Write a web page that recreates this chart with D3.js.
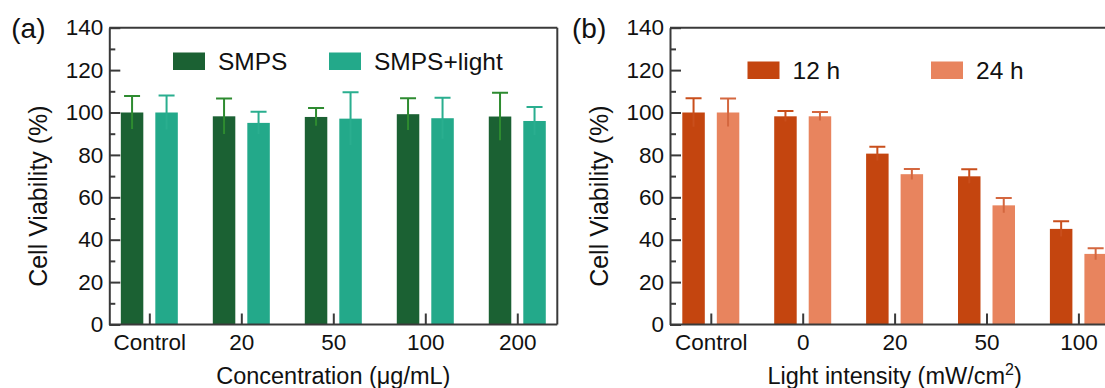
<html>
<head>
<script src="https://d3js.org/d3.v7.min.js"></script>
<style>
  body { margin: 0; background: #fff; }
  text { font-family: "Liberation Sans", Arial, sans-serif; fill: #111; }
  .axis path, .axis line { stroke: #3a3a3a; stroke-width: 2; }
  .axis text { font-size: 22.5px; fill: #111; }
</style>
</head>
<body>
<svg id="chart" width="1105" height="388"></svg>
<script>
// panel (a)
const catsA = ['Control', '20', '50', '100', '200'];
const smps = [100, 98.2, 97.9, 99.2, 98.1];
const smpsErr = [7.8, 8.4, 4.2, 7.5, 11.2];
const smpsLight = [100, 95.1, 97.1, 97.3, 96.0];
const smpsLightErr = [8.0, 5.2, 12.4, 9.7, 6.6];

// panel (b)
const catsB = ['Control', '0', '20', '50', '100'];
const h12 = [100, 98.2, 80.6, 69.9, 45.1];
const h12Err = [6.7, 2.5, 3.2, 3.3, 3.6];
const h24 = [100, 98.2, 70.9, 56.2, 33.3];
const h24Err = [6.6, 2.0, 2.5, 3.5, 2.7];

const yMajor = [0, 20, 40, 60, 80, 100, 120, 140];
const yMinor = [10, 30, 50, 70, 90, 110, 130];

const svg = d3.select('#chart');
const yTop = 27.7, yBottom = 324.5;
const y = d3.scaleLinear().domain([0, 140]).range([yBottom, yTop]);

function drawPanel(p) {
  const g = svg.append('g');
  const x = d3.scalePoint().domain(p.cats).range([p.x0, p.x1]).padding(p.pad);
  const inner = d3.scaleBand().domain([0, 1]).range([-28.5, 28.5]).paddingInner(0.348);

  p.series.forEach((s, si) => {
    // bars
    g.selectAll(null).data(p.cats).enter().append('rect')
      .attr('x', c => x(c) + inner(si))
      .attr('width', inner.bandwidth())
      .attr('y', (c, i) => y(s.values[i]))
      .attr('height', (c, i) => yBottom - y(s.values[i]))
      .attr('fill', s.color);
    // error bars
    const cx = c => x(c) + inner(si) + inner.bandwidth() / 2;
    g.selectAll(null).data(p.cats).enter().append('path')
      .attr('d', (c, i) => {
        const hi = y(s.values[i] + s.err[i]), lo = y(s.values[i] - s.err[i]);
        const xc = cx(c);
        return `M${xc},${lo}V${hi}M${xc - 8},${hi}H${xc + 8}`;
      })
      .attr('stroke', s.errColor)
      .attr('stroke-width', 2)
      .attr('fill', 'none');
  });

  // frame top and right
  g.append('line').attr('x1', p.x0).attr('x2', p.frameRight)
    .attr('y1', y(140)).attr('y2', y(140))
    .attr('stroke', '#3a3a3a').attr('stroke-width', 2);
  g.append('line').attr('x1', p.x1).attr('x2', p.x1)
    .attr('y1', y(140)).attr('y2', y(0))
    .attr('stroke', '#3a3a3a').attr('stroke-width', 2);

  // y axis with inward ticks
  g.append('g').attr('class', 'axis')
    .attr('transform', `translate(${p.x0},0)`)
    .call(d3.axisLeft(y).tickValues(yMajor).tickSizeInner(-11).tickSizeOuter(0).tickPadding(6));
  g.append('g').attr('class', 'axis')
    .attr('transform', `translate(${p.x0},0)`)
    .call(d3.axisLeft(y).tickValues(yMinor).tickSizeInner(-6).tickSizeOuter(0).tickFormat(''))
    .select('.domain').remove();

  // x axis with inward ticks
  g.append('g').attr('class', 'axis')
    .attr('transform', `translate(0,${yBottom})`)
    .call(d3.axisBottom(x).tickSizeInner(-11).tickSizeOuter(0).tickPadding(10))
    .select('.domain').attr('d', `M${p.x0},0H${p.frameRight}`);

  // axis titles
  g.append('text')
    .attr('transform', `translate(${p.x0 - 62},${(y(140) + y(0)) / 2 + 20}) rotate(-90)`)
    .attr('text-anchor', 'middle')
    .style('font-size', '25px')
    .text('Cell Viability (%)');
  const xt = g.append('text')
    .attr('x', x(p.cats[2]))
    .attr('y', 384)
    .attr('text-anchor', 'middle')
    .style('font-size', '23.5px');
  xt.append('tspan').text(p.xTitle);
  if (p.xSup) {
    xt.append('tspan').attr('dy', -9).style('font-size', '16px').text(p.xSup);
    xt.append('tspan').attr('dy', 9).text(')');
  }

  // panel label
  g.append('text').attr('x', p.x0 - 98).attr('y', 38)
    .style('font-size', '28px').text(p.label);

  // legend
  p.series.forEach((s, si) => {
    const lx = p.legX[si];
    g.append('rect').attr('x', lx).attr('y', p.legY - 8.8)
      .attr('width', 32).attr('height', 17.5).attr('fill', s.color);
    g.append('text').attr('x', lx + 45).attr('y', p.legY + 8.5)
      .style('font-size', '24.5px').text(s.name);
  });
}

drawPanel({
  cats: catsA, x0: 109.3, x1: 557.3, frameRight: 557.3, pad: 0.435,
  label: '(a)', xTitle: 'Concentration (\u03bcg/mL)',
  legX: [173, 329], legY: 61.3,
  series: [
    { name: 'SMPS', values: smps, err: smpsErr, color: '#1b6133', errColor: '#2e8b30' },
    { name: 'SMPS+light', values: smpsLight, err: smpsLightErr, color: '#23a98a', errColor: '#2aae8f' }
  ]
});

drawPanel({
  cats: catsB, x0: 670, x1: 1119.2, frameRight: 1119.2, pad: 0.444,
  label: '(b)', xTitle: 'Light intensity (mW/cm', xSup: '2',
  legX: [747.5, 931], legY: 70.3,
  series: [
    { name: '12 h', values: h12, err: h12Err, color: '#c4450f', errColor: '#c94f1c' },
    { name: '24 h', values: h24, err: h24Err, color: '#e8845e', errColor: '#d4673f' }
  ]
});
</script>
</body>
</html>
